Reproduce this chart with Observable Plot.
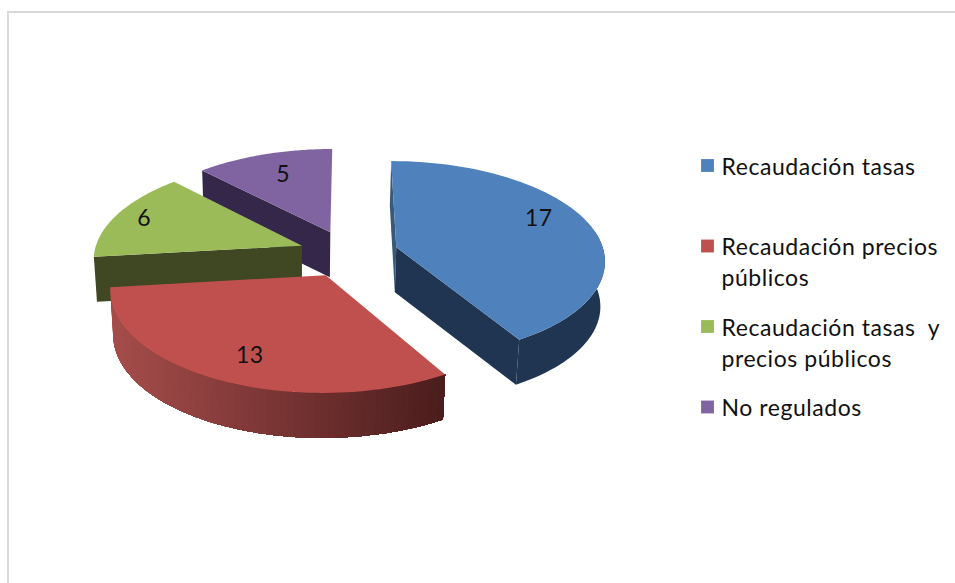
<!DOCTYPE html>
<html>
<head>
<meta charset="utf-8">
<script src="https://cdn.jsdelivr.net/npm/d3@7"></script>
<script src="https://cdn.jsdelivr.net/npm/@observablehq/plot@0.6"></script>
<style>
html,body{margin:0;padding:0;background:#fff;}
svg{display:block;}
svg text{letter-spacing:0.55px;}
</style>
</head>
<body>
<div id="chart"></div>
<script>
const categories = ["Recaudación tasas", "Recaudación precios\npúblicos", "Recaudación tasas  y\nprecios públicos", "No regulados"];
const values = [17, 13, 6, 5];
const colors = ["#4f81bd", "#c0504d", "#9bbb59", "#8064a2"];
const wallColors = ["#1f3552", "#a44c4a", "#404823", "#35274a"];

const W = 955, H = 583;
const view = {cx: 348, cy: 253, rx: 208, ry: 98, persp: 0.12, explode: 0.24, depth: 45, vanishX: 300, vanishK: 0.015};
const labelAt = [{a: -8, r: 0.79}, {a: -2.5, r: 0.78}, {a: 0, r: 0.85}, {a: 1, r: 0.72}];
const legend = {swatchX: 707, swatchDy: -1, textX: 721, top: 166, step: 80.5, size: 14.5, lineHeight: 1.36};

const total = d3.sum(values);
const rad = d => d * Math.PI / 180;
const project = (X, Y) => {
  const s = 1 / (1 + view.persp * Y);
  return [view.cx + view.rx * X * s, view.cy - view.ry * Y * s];
};
const lower = ([x, y]) => [x + (view.vanishX - x) * view.vanishK, y + view.depth];

let acc = 0;
const slices = values.map((value, i) => {
  const start = acc / total * 360;
  acc += value;
  const stop = acc / total * 360;
  const mid = (start + stop) / 2;
  const ox = view.explode * Math.sin(rad(mid)), oy = view.explode * Math.cos(rad(mid));
  const at = (deg, r = 1) => project(ox + r * Math.sin(rad(deg)), oy + r * Math.cos(rad(deg)));
  return {i, value, start, stop, mid, apex: project(ox, oy), at};
});

const rows = [];
let pid = 0;
const addPoly = (pts, color) => { const id = pid++; pts.forEach(([x, y]) => rows.push({id, x, y, color})); };
const arc = (s, a, b, n = 60) => d3.range(n + 1).map(k => s.at(a + (b - a) * k / n));

const [blue, red, green, purple] = slices;

// purple
addPoly([purple.at(purple.start), purple.apex, lower(purple.apex), lower(purple.at(purple.start))], wallColors[3]);
addPoly([purple.apex, ...arc(purple, purple.start, purple.stop)], colors[3]);
// green
addPoly([green.at(green.start), green.apex, lower(green.apex), lower(green.at(green.start))], wallColors[2]);
addPoly([green.apex, ...arc(green, green.start, green.stop)], colors[2]);
// red rim, shaded across x; each strip runs to the rim's far end so no seams show
const redRim = arc(red, red.start, red.stop, 70);
const xExt = d3.extent(redRim, d => d[0]);
const shade = d3.interpolateRgb("#a54d4b", "#4a1c1c");
for (let k = 0; k < redRim.length - 1; k++) {
  const part = redRim.slice(0, redRim.length - k);
  const edge = part[part.length - 1];
  addPoly([...part, ...part.map(lower).reverse()], shade((edge[0] - xExt[0]) / (xExt[1] - xExt[0])));
}
addPoly([red.apex, ...arc(red, red.start, red.stop)], colors[1]);
// blue
addPoly([blue.at(blue.start), blue.apex, lower(blue.apex), lower(blue.at(blue.start))], "#3a5878");
addPoly([blue.at(blue.stop), blue.apex, lower(blue.apex), lower(blue.at(blue.stop))], wallColors[0]);
const blueRim = arc(blue, 80, blue.stop, 40);
addPoly([...blueRim, ...blueRim.map(lower).reverse()], wallColors[0]);
addPoly([blue.apex, ...arc(blue, blue.start, blue.stop)], colors[0]);

const labels = slices.map(s => {
  const [x, y] = s.at(s.mid + labelAt[s.i].a, labelAt[s.i].r);
  return {x, y, text: String(s.value)};
});
const legendRows = categories.map((name, i) => ({name, color: colors[i], y: legend.top + i * legend.step}));

const fig = Plot.plot({
  width: W, height: H,
  margin: 0,
  x: {domain: [0, W], range: [0, W], axis: null},
  y: {domain: [0, H], range: [0, H], axis: null},
  color: {type: "identity"},
  style: {background: "#fff"},
  marks: [
    Plot.ruleX([7.5], {y1: 11, y2: H, stroke: "#d9d9d9", strokeWidth: 2}),
    Plot.ruleY([11.5], {x1: 7, x2: W, stroke: "#d9d9d9", strokeWidth: 2}),
    Plot.line(rows, {x: "x", y: "y", z: "id", fill: "color", stroke: "none", curve: "linear-closed"}),
    Plot.text(labels, {x: "x", y: "y", text: "text", fontFamily: "Lato", fontSize: 23, fill: "#111", textAnchor: "middle", lineAnchor: "middle"}),
    Plot.dot(legendRows, {x: () => legend.swatchX, y: d => d.y + legend.swatchDy, symbol: "square", r: legend.size / 2, fill: "color", stroke: "none"}),
    Plot.text(legendRows, {x: () => legend.textX, y: d => d.y - 14, text: "name", fontFamily: "Lato", fontSize: 23, lineHeight: legend.lineHeight, fill: "#111", textAnchor: "start", lineAnchor: "top"})
  ]
});
document.getElementById("chart").appendChild(fig);
</script>
</body>
</html>
